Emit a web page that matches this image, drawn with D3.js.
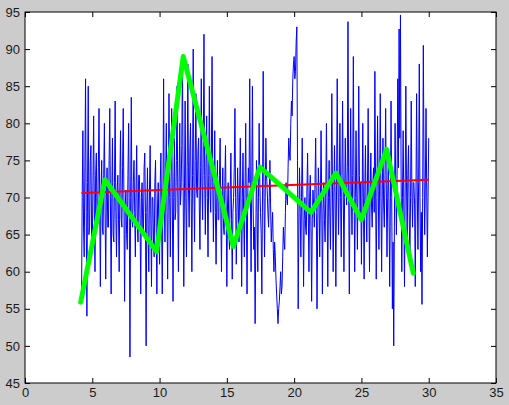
<!DOCTYPE html>
<html>
<head>
<meta charset="utf-8">
<script src="https://cdn.jsdelivr.net/npm/d3@7"></script>
<style>
  html, body { margin: 0; padding: 0; background: #cccccc; }
</style>
</head>
<body>
<div id="chart"></div>
<script>
// ---- data ----
var xTicks = [0, 5, 10, 15, 20, 25, 30, 35];
var yTicks = [45, 50, 55, 60, 65, 70, 75, 80, 85, 90, 95];

// noisy blue signal, one value every 0.05 starting at x = 4.2
var blueStart = 4.2, blueStep = 0.05;
var blueValues = [
  56, 70, 79, 66, 62, 74, 86, 68, 54, 72, 85, 65, 66, 75, 77, 64,
  63, 72, 81, 69, 60, 73, 76, 67, 67, 74, 82, 70, 58, 71, 75, 66, 65, 73, 80, 68,
  59, 71, 74, 66, 66, 75, 82, 69, 57, 70, 78, 65, 64, 72, 83, 68, 62, 71, 73, 67,
  60, 72, 79, 67, 66, 74, 82, 70, 56, 69, 71, 65, 63, 73, 80, 68, 48.5, 70, 83.5, 67,
  66, 72, 75, 68, 62, 71, 77, 66, 64, 73, 73, 67, 57, 70, 72, 66, 65, 74, 76, 68,
  50, 68, 74, 65, 60, 71, 77, 67, 58, 70, 70, 64, 62, 72, 75, 66, 57, 69, 72, 65,
  61, 72, 76, 67, 57, 70, 86, 69, 64, 73, 80, 68, 59, 71, 84, 70, 62, 72, 82, 69,
  56, 70, 78, 67, 68, 75, 85, 71, 60, 72, 80, 69, 71, 77, 89, 72, 58, 71, 83, 70,
  62, 74, 88, 71, 66, 76, 80, 70, 60, 73, 90, 72, 64, 75, 84, 71, 70, 76, 78, 69,
  63, 74, 86, 72, 67, 77, 92, 73, 65, 74, 81, 70, 62, 73, 85, 71, 68, 76, 89, 72,
  64, 72, 79, 68, 61, 70, 75, 67, 67, 73, 78, 68, 60, 70, 74, 66, 65, 72, 77, 68,
  58, 69, 72, 65, 63, 71, 76, 67, 59, 68, 70, 74, 82, 70, 61, 68, 74, 69, 64, 71,
  78, 68, 58, 70, 76, 67, 62, 71, 80, 68, 57, 70, 74, 72, 86, 70, 60, 72, 85, 69,
  63, 66, 53, 64, 75, 68, 60, 70, 80, 72, 68, 65, 57, 71, 87, 72, 62, 70, 78, 73,
  71, 68, 66, 70, 75, 69, 64, 66, 68, 63, 60, 64, 62, 59, 57, 55, 53, 55, 56, 58,
  60, 57, 58, 62, 66, 64, 63, 68, 72, 70, 69, 74, 78, 76, 75, 80, 83, 81, 86, 88,
  89, 86, 87, 91, 93, 75, 55, 66, 74, 68, 62, 70, 78, 69, 58, 67, 70, 66, 65, 71,
  76, 68, 60, 70, 73, 66, 56, 67, 71, 69, 66, 72, 78, 68, 55, 66, 74, 70, 62, 69,
  79, 70, 57, 68, 72, 67, 64, 71, 80, 69, 58, 70, 75, 68, 63, 72, 84, 71, 60, 70,
  77, 69, 58, 71, 86, 73, 65, 72, 80, 70, 62, 73, 83, 71, 60, 70, 78, 72, 69, 74,
  93.7, 72, 57, 70, 82, 71, 65, 73, 89, 72, 60, 70, 79, 71, 63, 72, 85, 73, 68, 72,
  61, 70, 80, 69, 59, 71, 77, 68, 64, 72, 82, 70, 60, 71, 76, 69, 66, 72, 74, 68,
  87, 72, 59, 70, 81, 71, 63, 72, 84, 70, 60, 71, 78, 69, 66, 73, 82, 71, 62, 70,
  76, 68, 58, 69, 83, 70, 55, 64, 50, 66, 80, 72, 65, 73, 86, 74, 92.7, 78, 94.6, 72,
  60, 70, 79, 69, 58, 71, 85, 72, 64, 73, 77, 68, 61, 70, 83, 71, 66, 72, 72, 69,
  58, 70, 84, 71, 63, 72, 88, 70, 60, 68, 55.6, 70, 90.5, 74, 65, 72, 82, 71, 62, 70,
  78
];

// red trend line
var redX = [4.2, 30];
var redY = [70.6, 72.4];

// green thick line
var greenX = [4.14, 5.94, 9.78, 11.76, 15.48, 17.46, 21.25, 23.1, 25.0, 26.87, 28.85];
var greenY = [55.9, 72.4, 62.7, 89.0, 63.4, 74.1, 68.0, 73.3, 67.0, 76.5, 59.8];

// ---- layout ----
var margin = {top: 12, right: 13, bottom: 22, left: 25},
    width = 509 - margin.left - margin.right,
    height = 405 - margin.top - margin.bottom;

var svg = d3.select("#chart")
    .append("svg")
    .attr("width", 509)
    .attr("height", 405)
    .style("display", "block");

svg.append("rect")
    .attr("width", 509)
    .attr("height", 405)
    .attr("fill", "#cccccc");

var g = svg.append("g")
    .attr("transform", "translate(" + margin.left + "," + margin.top + ")");

var x = d3.scaleLinear().domain([0, 35]).range([0, width]);
var y = d3.scaleLinear().domain([45, 95]).range([height, 0]);

// plot area
g.append("rect")
    .attr("width", width)
    .attr("height", height)
    .attr("fill", "#ffffff");

var line = d3.line()
    .x(function(d) { return x(d[0]); })
    .y(function(d) { return y(d[1]); });

// blue signal
var blueData = blueValues.map(function(v, i) { return [blueStart + i * blueStep, v]; });
g.append("path")
    .datum(blueData)
    .attr("d", line)
    .attr("fill", "none")
    .attr("stroke", "#0000ff")
    .attr("stroke-width", 1);

// red trend
g.append("path")
    .datum(redX.map(function(v, i) { return [v, redY[i]]; }))
    .attr("d", line)
    .attr("fill", "none")
    .attr("stroke", "#ff0000")
    .attr("stroke-width", 2);

// green
g.append("path")
    .datum(greenX.map(function(v, i) { return [v, greenY[i]]; }))
    .attr("d", line)
    .attr("fill", "none")
    .attr("stroke", "#00ff00")
    .attr("stroke-width", 5)
    .attr("stroke-linejoin", "round")
    .attr("stroke-linecap", "round");

// axes, ticks pointing inward
function styleAxis(sel) {
  sel.select(".domain").remove();
  sel.selectAll(".tick line").attr("stroke", "#000000");
  sel.selectAll("text")
    .attr("fill", "#1a1a1a")
    .style("font-family", "'Liberation Sans', Arial, Helvetica, sans-serif")
    .style("font-size", "13px");
}

g.append("g")
    .attr("transform", "translate(0," + height + ")")
    .call(d3.axisBottom(x).tickValues(xTicks).tickSizeInner(-5).tickSizeOuter(0).tickPadding(5))
    .call(styleAxis);

g.append("g")
    .call(d3.axisTop(x).tickValues(xTicks).tickSizeInner(-5).tickSizeOuter(0).tickFormat(""))
    .call(styleAxis);

g.append("g")
    .call(d3.axisLeft(y).tickValues(yTicks).tickSizeInner(-5).tickSizeOuter(0).tickPadding(5))
    .call(styleAxis);

g.append("g")
    .attr("transform", "translate(" + width + ",0)")
    .call(d3.axisRight(y).tickValues(yTicks).tickSizeInner(-5).tickSizeOuter(0).tickFormat(""))
    .call(styleAxis);

// frame
g.append("rect")
    .attr("width", width)
    .attr("height", height)
    .attr("fill", "none")
    .attr("stroke", "#000000")
    .attr("stroke-width", 1);
</script>
</body>
</html>
